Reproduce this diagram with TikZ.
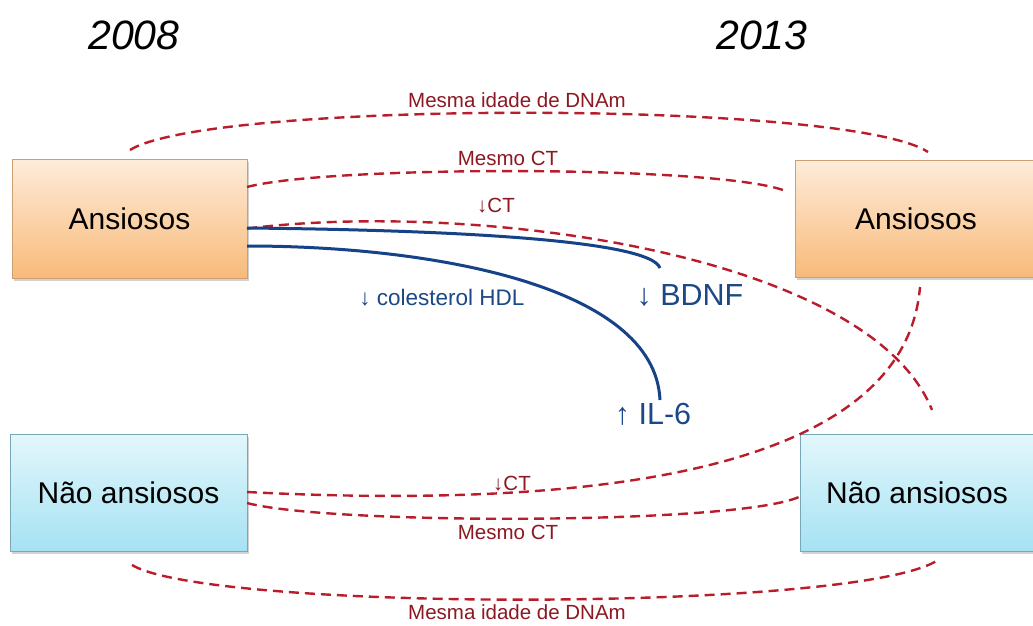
\documentclass[tikz,border=0pt]{standalone}
\usepackage{fontspec}
\setmainfont{Liberation Sans}
\usetikzlibrary{shadows}
\definecolor{redline}{RGB}{185,28,42}
\definecolor{redtext}{RGB}{140,24,34}
\definecolor{blueline}{RGB}{22,66,135}
\definecolor{bluetext}{RGB}{28,72,135}
\definecolor{orangetop}{RGB}{254,236,218}
\definecolor{orangebot}{RGB}{248,186,122}
\definecolor{orangeedge}{RGB}{205,160,115}
\definecolor{cyantop}{RGB}{226,247,251}
\definecolor{cyanbot}{RGB}{166,226,243}
\definecolor{cyanedge}{RGB}{120,168,184}
\tikzset{
  basebox/.style={draw, line width=0.8pt, inner sep=0pt, outer sep=0pt,
    font=\fontsize{30}{36}\selectfont, text=black,
    drop shadow={shadow xshift=2pt, shadow yshift=-2.5pt, opacity=0.35}},
  obox/.style={basebox, draw=orangeedge, top color=orangetop, bottom color=orangebot},
  cbox/.style={basebox, draw=cyanedge, top color=cyantop, bottom color=cyanbot},
  yeartitle/.style={font=\fontsize{41}{48}\selectfont\itshape, text=black},
  rlink/.style={draw=redline, line width=2.4pt, dash pattern=on 10pt off 6pt},
  blink/.style={draw=blueline, line width=3pt},
  rlabel/.style={font=\fontsize{20.5}{24}\selectfont, text=redtext, inner sep=1pt},
  blabel/.style={font=\fontsize{30.5}{36}\selectfont, text=bluetext, inner sep=1pt},
  bsmall/.style={font=\fontsize{22.5}{26}\selectfont, text=bluetext, inner sep=1pt}
}
\begin{document}
\begin{tikzpicture}[x=1pt,y=-1pt]
\useasboundingbox (0,0) rectangle (1033,626);
\fill[white] (0,0) rectangle (1033,626);

% titles
\node[yeartitle] (y1) at (134,35) {2008};
\node[yeartitle] (y2) at (762,35) {2013};

% boxes
\node[obox, minimum width=235pt, minimum height=119pt] (a1) at (129.5,218.5) {Ansiosos};
\node[obox, minimum width=242pt, minimum height=117pt] (a2) at (916,218.5) {Ansiosos};
\node[cbox, minimum width=237pt, minimum height=117pt] (n1) at (128.5,492.5) {Não ansiosos};
\node[cbox, minimum width=234pt, minimum height=117pt] (n2) at (917,492.5) {Não ansiosos};

% free ends
\coordinate (dTopL) at (130,150);
\coordinate (dTopR) at (928,152);
\coordinate (ctTopR) at (788,192);
\coordinate (ctDownEnd) at (932,410);
\coordinate (ctUpEnd) at (920,287);
\coordinate (dBotL) at (132,565);
\coordinate (dBotR) at (938,560);
\coordinate (bdnfEnd) at (660,268);
\coordinate (il6End) at (660,400);

% red dashed connectors
\draw[rlink] (dTopL) .. controls (210,100) and (850,100) .. (dTopR);
\draw[rlink] ([yshift=31.5pt]a1.east) .. controls (330,165) and (730,165) .. (ctTopR);
\draw[rlink] ([yshift=-10pt]a1.east) .. controls (480,200) and (870,255) .. (ctDownEnd);
\draw[rlink] ([yshift=0.5pt]n1.east) .. controls (600,510) and (905,470) .. (ctUpEnd);
\draw[rlink] ([yshift=-10.5pt]n1.east) .. controls (330,525) and (740,525) .. ([yshift=-4pt]n2.west);
\draw[rlink] (dBotL) .. controls (210,612) and (860,612) .. (dBotR);

% blue connectors
\draw[blink] ([yshift=-9.5pt]a1.east) .. controls (450,230) and (650,240) .. (bdnfEnd);
\draw[blink] ([yshift=-27.5pt]a1.east) .. controls (430,246) and (655,285) .. (il6End);

% red labels
\node[rlabel] (l1) at (517,100) {Mesma idade de DNAm};
\node[rlabel] (l2) at (508,158) {Mesmo CT};
\node[rlabel] (l3) at (496,206) {↓CT};
\node[rlabel] (l4) at (512,484) {↓CT};
\node[rlabel] (l5) at (508,532) {Mesmo CT};
\node[rlabel] (l6) at (517,612) {Mesma idade de DNAm};

% blue labels
\node[bsmall] (hdl) at (442,298) {↓ colesterol HDL};
\node[blabel] (bdnf) at (690,295) {↓ BDNF};
\node[blabel] (il6) at (653,414) {↑ IL-6};
\end{tikzpicture}
\end{document}
